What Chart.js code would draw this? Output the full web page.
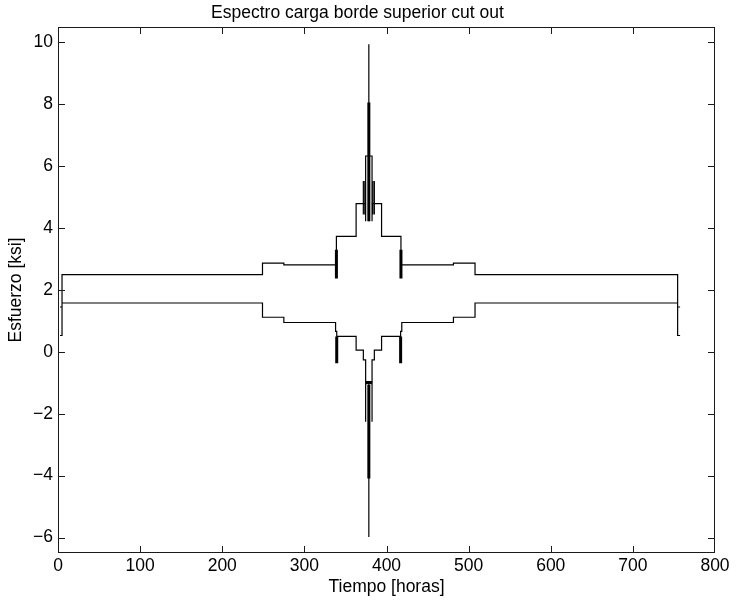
<!DOCTYPE html>
<html>
<head>
<meta charset="utf-8">
<script src="https://cdn.jsdelivr.net/npm/chart.js@4.4.1/dist/chart.umd.min.js"></script>
<style>
  body { margin: 0; background: #fff; }
  canvas { display: block; }
</style>
</head>
<body>
<canvas id="chart" width="736" height="602"></canvas>
<script>
// axis ticks
var xTicks = [0, 100, 200, 300, 400, 500, 600, 700, 800];
var yTicks = [-6, -4, -2, 0, 2, 4, 6, 8, 10];

// upper envelope of the spectrum (hours, ksi)
var upperT = [2.4, 4.9, 4.9, 249, 249, 275, 275, 339, 339, 363, 363, 374.6, 374.6, 382.4, 382.4, 394, 394, 417.6, 417.6, 481.5, 481.5, 507.8, 507.8, 754.5, 754.5, 757.5];
var upperV = [0.53, 0.53, 2.5, 2.5, 2.87, 2.87, 2.81, 2.81, 3.73, 3.73, 4.79, 4.79, 6.33, 6.33, 4.79, 4.79, 3.73, 3.73, 2.81, 2.81, 2.87, 2.87, 2.5, 2.5, 0.53, 0.53];

// lower envelope
var lowerT = [4.9, 249, 249, 275, 275, 338, 338, 339.4, 339.4, 363, 363, 371.8, 371.8, 374.6, 374.6, 382.4, 382.4, 385.2, 385.2, 394, 394, 417.2, 417.2, 418.6, 418.6, 481.5, 481.5, 507.8, 507.8, 754.5];
var lowerV = [1.58, 1.58, 1.12, 1.12, 0.95, 0.95, 0.66, 0.66, 0.5, 0.5, 0.06, 0.06, -0.26, -0.26, -0.96, -0.96, -0.26, -0.26, 0.06, 0.06, 0.5, 0.5, 0.66, 0.66, 0.95, 0.95, 1.12, 1.12, 1.58, 1.58];

// thin single excursions [t0, v0, t1, v1]
var thinSegs = [
    [2.4, 1.45, 4.9, 1.45],
    [754.5, 1.45, 757.5, 1.45],
    [371.8, 4.44, 371.8, 5.52],
    [373.6, 4.44, 373.6, 5.52],
    [374.6, 4.79, 374.6, 4.22],
    [382.4, 4.79, 382.4, 4.22],
    [383.4, 4.44, 383.4, 5.52],
    [385.2, 4.44, 385.2, 5.52],
    [378.5, 4.22, 378.5, 9.94],
    [378.5, -0.96, 378.5, -5.98],
    [374.6, -0.96, 374.6, -2.26],
    [382.4, -0.96, 382.4, -2.26]
];

// dense blocks of cycles (drawn heavier)
var thickSegs = [
    [339, 2.37, 339, 3.3],
    [417.6, 2.37, 417.6, 3.3],
    [339.4, 0.5, 339.4, -0.37],
    [417.2, 0.5, 417.2, -0.37],
    [378.5, 4.22, 378.5, 8.06],
    [378.5, -1.07, 378.5, -4.09],
    [377, 6.2, 380, 6.2],
    [374.6, -1.0, 382.4, -1.0]
];

function toPoints(ts, vs) {
    return ts.map((t, i) => ({ x: t, y: vs[i] }));
}

function segPoints(segs) {
    var pts = [];
    segs.forEach(s => {
        pts.push({ x: s[0], y: s[1] });
        pts.push({ x: s[2], y: s[3] });
        pts.push({ x: s[2], y: null });
    });
    return pts;
}

// MATLAB-like box with inward ticks on all four sides
var matlabBox = {
    id: 'matlabBox',
    afterDraw(chart) {
        var c = chart.ctx;
        var xs = chart.scales.x, ys = chart.scales.y;
        var len = 7;
        var L = Math.round(xs.getPixelForValue(0));
        var R = Math.round(xs.getPixelForValue(800));
        var T = Math.round(ys.top);
        var B = Math.round(ys.bottom);
        c.save();
        c.fillStyle = '#1a1a1a';
        c.fillRect(L, T, R - L, 1);
        c.fillRect(L, B - 1, R - L, 1);
        c.fillRect(L, T, 1, B - T);
        c.fillRect(R - 1, T, 1, B - T);
        xTicks.forEach(v => {
            var px = Math.round(xs.getPixelForValue(v));
            if (px >= R) px = R - 1;
            c.fillRect(px, B - len, 1, len);
            c.fillRect(px, T, 1, len);
        });
        yTicks.forEach(v => {
            var py = Math.round(ys.getPixelForValue(v));
            c.fillRect(L, py, len, 1);
            c.fillRect(R - len, py, len, 1);
        });
        c.restore();
    }
};

var font = 'Liberation Sans, Arial, Helvetica, sans-serif';
var ctx = document.getElementById('chart').getContext('2d');

var chart = new Chart(ctx, {
    type: 'line',
    data: {
        datasets: [{
            data: toPoints(upperT, upperV),
            borderColor: '#000',
            borderWidth: 1.2
        },
        {
            data: toPoints(lowerT, lowerV),
            borderColor: '#000',
            borderWidth: 1.2
        },
        {
            data: segPoints(thinSegs),
            borderColor: '#000',
            borderWidth: 1.2,
            spanGaps: false
        },
        {
            data: segPoints(thickSegs),
            borderColor: '#000',
            borderWidth: 3,
            borderCapStyle: 'butt',
            spanGaps: false
        }]
    },
    options: {
        responsive: false,
        animation: false,
        devicePixelRatio: 1,
        layout: { padding: { left: 0, right: 21, top: 0, bottom: 0 } },
        elements: {
            point: { radius: 0, hoverRadius: 0 },
            line: { tension: 0, fill: false }
        },
        plugins: {
            legend: { display: false },
            tooltip: { enabled: false },
            title: {
                display: true,
                text: 'Espectro carga borde superior cut out',
                color: '#000',
                font: { family: font, size: 17.5, weight: 'normal' },
                padding: { top: 3, bottom: 3 }
            }
        },
        scales: {
            x: {
                type: 'linear',
                min: 0,
                max: 800,
                afterBuildTicks: s => { s.ticks = xTicks.map(v => ({ value: v })); },
                afterFit: s => { s.height = 49; },
                grid: { display: false, drawTicks: false },
                border: { display: false },
                ticks: {
                    color: '#000',
                    padding: 3,
                    maxRotation: 0,
                    autoSkip: false,
                    font: { family: font, size: 17.5 }
                },
                title: {
                    display: true,
                    text: 'Tiempo [horas]',
                    color: '#000',
                    font: { family: font, size: 17.5 },
                    padding: { top: 0, bottom: 4 }
                }
            },
            y: {
                type: 'linear',
                min: -6.5,
                max: 10.5,
                afterBuildTicks: s => { s.ticks = yTicks.map(v => ({ value: v })); },
                afterFit: s => { s.width = 58; },
                grid: { display: false, drawTicks: false },
                border: { display: false },
                ticks: {
                    color: '#000',
                    padding: 5,
                    autoSkip: false,
                    font: { family: font, size: 17.5 },
                    callback: v => String(v).replace('-', '\u2212')
                },
                title: {
                    display: true,
                    text: 'Esfuerzo [ksi]',
                    color: '#000',
                    font: { family: font, size: 17.5 },
                    padding: { top: 6, bottom: 0 }
                }
            }
        }
    },
    plugins: [matlabBox]
});
</script>
</body>
</html>
